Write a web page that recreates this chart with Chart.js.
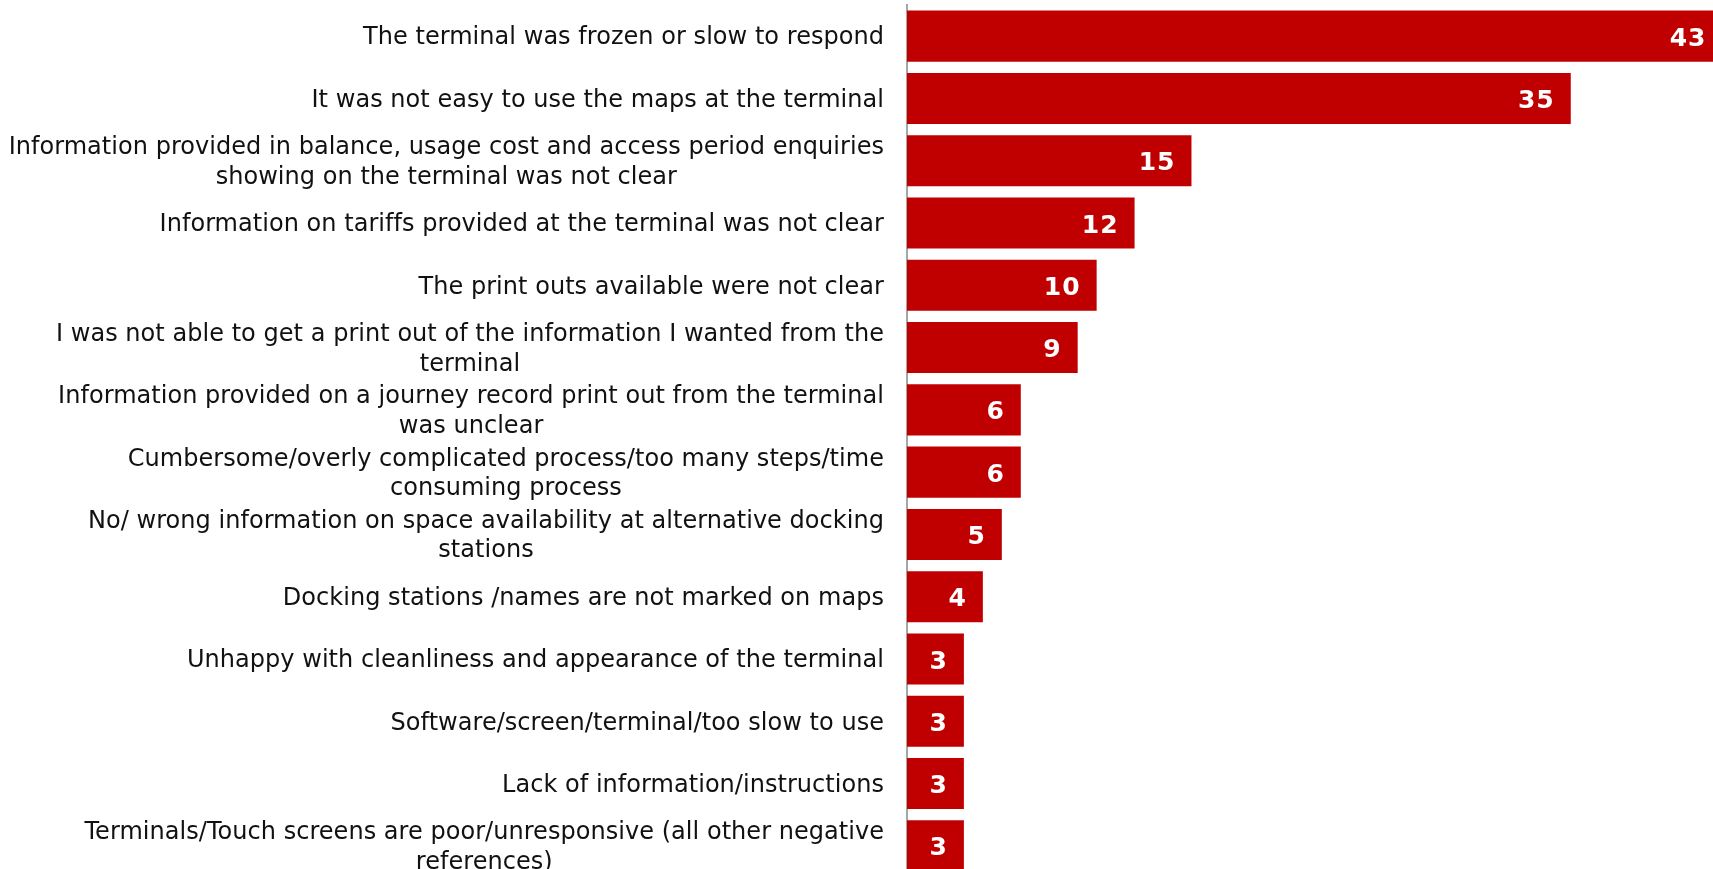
<!DOCTYPE html>
<html>
<head>
<meta charset="utf-8">
<script src="https://cdn.jsdelivr.net/npm/chart.js@4/dist/chart.umd.min.js"></script>
<style>
  html, body { margin: 0; padding: 0; background: #fff; overflow: hidden; }
  #wrap { width: 1713px; height: 882px; }
</style>
</head>
<body>
<div id="wrap"><canvas id="c" width="1713" height="882"></canvas></div>
<script>
// Reasons given for dissatisfaction with the docking station terminal (%)
const categories = [
  ["The terminal was frozen or slow to respond"],
  ["It was not easy to use the maps at the terminal"],
  ["Information provided in balance, usage cost and access period enquiries", "showing on the terminal was not clear"],
  ["Information on tariffs provided at the terminal was not clear"],
  ["The print outs available were not clear"],
  ["I was not able to get a print out of the information I wanted from the", "terminal"],
  ["Information provided on a journey record print out from the terminal", "was unclear"],
  ["Cumbersome/overly complicated process/too many steps/time", "consuming process"],
  ["No/ wrong information on space availability at alternative docking", "stations"],
  ["Docking stations /names are not marked on maps"],
  ["Unhappy with cleanliness and appearance of the terminal"],
  ["Software/screen/terminal/too slow to use"],
  ["Lack of information/instructions"],
  ["Terminals/Touch screens are poor/unresponsive (all other negative", "references)"]
];
const values = [43, 35, 15, 12, 10, 9, 6, 6, 5, 4, 3, 3, 3, 3];

const BAR_COLOR = '#C00000';
const LABEL_FONT = '24px "DejaVu Sans"';
const VALUE_FONT = 'bold 25px "DejaVu Sans"';
const AXIS_WIDTH = 907;

// Category labels: each block is centred on its own widest line, right edge near the axis
const categoryLabels = {
  id: 'categoryLabels',
  afterDraw(chart) {
    const ctx = chart.ctx;
    const y = chart.scales.y;
    const rightEdge = chart.chartArea.left - 23;
    const lineH = 29.5;
    ctx.save();
    ctx.font = LABEL_FONT;
    ctx.letterSpacing = '0.04px';
    ctx.fillStyle = '#111';
    ctx.textAlign = 'center';
    ctx.textBaseline = 'middle';
    categories.forEach((lines, i) => {
      const w = Math.max(...lines.map(l => ctx.measureText(l).width));
      const cx = rightEdge - w / 2;
      const cy = y.getPixelForValue(i) + 2;
      const top = cy - (lines.length - 1) * lineH / 2;
      lines.forEach((l, k) => ctx.fillText(l, cx, top + k * lineH));
    });
    ctx.restore();
  }
};

// Value labels drawn inside the end of each bar
const valueLabels = {
  id: 'valueLabels',
  afterDatasetsDraw(chart) {
    const ctx = chart.ctx;
    const meta = chart.getDatasetMeta(0);
    ctx.save();
    ctx.font = VALUE_FONT;
    ctx.letterSpacing = '1px';
    ctx.fillStyle = '#fff';
    ctx.textAlign = 'right';
    ctx.textBaseline = 'middle';
    meta.data.forEach((bar, i) => {
      ctx.fillText(String(values[i]), bar.x - 16, bar.y + 3);
    });
    ctx.restore();
  }
};

new Chart(document.getElementById('c'), {
  type: 'bar',
  data: {
    labels: categories.map(c => c.join(' ')),
    datasets: [{
      data: values,
      backgroundColor: BAR_COLOR,
      borderWidth: 0,
      barPercentage: 0.82,
      categoryPercentage: 1.0
    }]
  },
  options: {
    indexAxis: 'y',
    responsive: false,
    animation: false,
    events: [],
    layout: { padding: { top: 5, bottom: 5, left: 0, right: 0 } },
    plugins: { legend: { display: false }, tooltip: { enabled: false } },
    scales: {
      x: {
        display: false,
        min: 0,
        max: 42.5
      },
      y: {
        afterFit(scale) { scale.width = AXIS_WIDTH; },
        ticks: { display: false },
        grid: { display: false, drawTicks: false },
        border: { display: true, color: '#a6a6a6', width: 2 }
      }
    }
  },
  plugins: [valueLabels, categoryLabels]
});
</script>
</body>
</html>
